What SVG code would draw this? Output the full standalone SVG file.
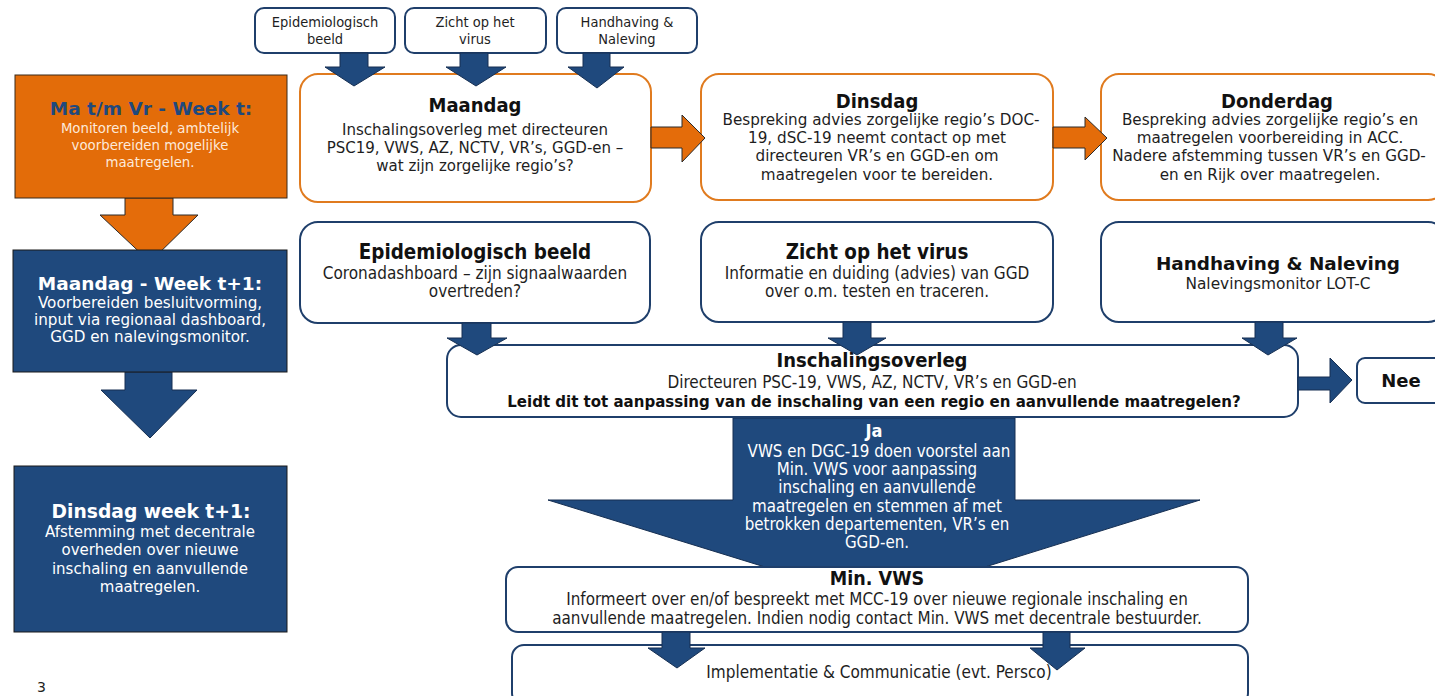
<svg xmlns="http://www.w3.org/2000/svg" width="1435" height="696" viewBox="0 0 1435 696">
<style>
.bg{fill:#ffffff}
.nb{fill:#ffffff;stroke:#1f3f6b;stroke-width:2}
.no{fill:#ffffff;stroke:#e07b1f;stroke-width:2}
.lo{fill:#e36c09;stroke:#3a2a1a;stroke-width:1}
.lb{fill:#1f497d;stroke:#1a1a1a;stroke-width:1}
.ab{fill:#1f497d;stroke:#162f52;stroke-width:1}
.ao{fill:#e46c0a;stroke:#2b2b2b;stroke-width:1}
.c{font-family:"DejaVu Sans Condensed","DejaVu Sans",sans-serif;fill:#1e1e1e;text-anchor:middle}
.v{font-family:"DejaVu Sans",Verdana,sans-serif;fill:#1e1e1e;text-anchor:middle}
.b{font-weight:bold;fill:#111}
.w{fill:#ffffff}
.cr{fill:#fde9d9}
</style>
<rect class="bg" x="0" y="0" width="1435" height="696"/>

<g id="connectors">
  <polygon class="ao" points="125,198 173,198 173,215 198,215 150,262 100,215 125,215"/>
  <polygon class="ab" points="125,372 172,372 172,390 197,390 150,438 101,390 125,390"/>
  <polygon class="ab" points="733,418 1015,418 1015,500 1200,500 985,567 765,567 548,500 733,500"/>
</g>

<g id="node-left-1">
  <rect class="lo" x="15" y="75" width="272" height="123"/>
  <text class="v b" x="151" y="115" font-size="18.5" style="fill:#1f497d">Ma t/m Vr - Week t:</text>
  <text class="v cr" x="150" y="133" font-size="13.3">Monitoren beeld, ambtelijk</text>
  <text class="v cr" x="150" y="150" font-size="13.3">voorbereiden mogelijke</text>
  <text class="v cr" x="150" y="167" font-size="13.3">maatregelen.</text>
</g>
<g id="node-left-2">
  <rect class="lb" x="13" y="250" width="274" height="122"/>
  <text class="v b" x="150" y="290" font-size="18.5" style="fill:#fff">Maandag - Week t+1:</text>
  <text class="v" x="150" y="308" font-size="15.2" style="fill:#fff">Voorbereiden besluitvorming,</text>
  <text class="v" x="150" y="325" font-size="15.2" style="fill:#fff">input via regionaal dashboard,</text>
  <text class="v" x="150" y="342" font-size="15.2" style="fill:#fff">GGD en nalevingsmonitor.</text>
</g>
<g id="node-left-3">
  <rect class="lb" x="14" y="466" width="273" height="166"/>
  <text class="v b" x="151" y="518" font-size="18.7" style="fill:#fff">Dinsdag week t+1:</text>
  <text class="v" x="150" y="537" font-size="15" style="fill:#fff">Afstemming met decentrale</text>
  <text class="v" x="150" y="555" font-size="15" style="fill:#fff">overheden over nieuwe</text>
  <text class="v" x="150" y="574" font-size="15" style="fill:#fff">inschaling en aanvullende</text>
  <text class="v" x="150" y="592" font-size="15" style="fill:#fff">maatregelen.</text>
</g>

<g id="node-top-epi">
  <rect class="nb" x="255" y="8" width="140" height="45" rx="9"/>
  <text class="c" x="325" y="27" font-size="14.5">Epidemiologisch</text>
  <text class="c" x="325" y="44" font-size="14.5">beeld</text>
</g>
<g id="node-top-zicht">
  <rect class="nb" x="405" y="8" width="141" height="45" rx="9"/>
  <text class="c" x="475" y="27" font-size="14.5">Zicht op het</text>
  <text class="c" x="475" y="44" font-size="14.5">virus</text>
</g>
<g id="node-top-handhaving">
  <rect class="nb" x="557" y="8" width="140" height="45" rx="9"/>
  <text class="c" x="627" y="27" font-size="14.5">Handhaving &amp;</text>
  <text class="c" x="627" y="44" font-size="14.5">Naleving</text>
</g>

<g id="node-maandag">
  <rect class="no" x="300" y="74" width="351" height="128" rx="18"/>
  <text class="c b" x="475" y="112" font-size="20">Maandag</text>
  <text class="c" x="475" y="135" font-size="16.7">Inschalingsoverleg met directeuren</text>
  <text class="c" x="475" y="153" font-size="16.7">PSC19, VWS, AZ, NCTV, VR’s, GGD-en –</text>
  <text class="c" x="475" y="171" font-size="16.7">wat zijn zorgelijke regio’s?</text>
</g>
<g id="node-dinsdag">
  <rect class="no" x="701" y="74" width="352" height="126" rx="18"/>
  <text class="c b" x="877" y="108" font-size="20">Dinsdag</text>
  <text class="v" x="881" y="125" font-size="15.2">Bespreking advies zorgelijke regio’s DOC-</text>
  <text class="v" x="877" y="143" font-size="15.2">19, dSC-19 neemt contact op met</text>
  <text class="v" x="877" y="161" font-size="15.2">directeuren VR’s en GGD-en om</text>
  <text class="v" x="877" y="180" font-size="15.2">maatregelen voor te bereiden.</text>
</g>
<g id="node-donderdag">
  <rect class="no" x="1101" y="74" width="345" height="126" rx="18"/>
  <text class="c b" x="1277" y="108" font-size="20">Donderdag</text>
  <text class="v" x="1270" y="125" font-size="15.2">Bespreking advies zorgelijke regio’s en</text>
  <text class="v" x="1270" y="143" font-size="15.2">maatregelen voorbereiding in ACC.</text>
  <text class="v" x="1269" y="161" font-size="15.2">Nadere afstemming tussen VR’s en GGD-</text>
  <text class="v" x="1270" y="180" font-size="15.2">en en Rijk over maatregelen.</text>
</g>

<g id="node-epi">
  <rect class="nb" x="300" y="222" width="350" height="101" rx="18"/>
  <text class="c b" x="475" y="259" font-size="20.4">Epidemiologisch beeld</text>
  <text class="c" x="475" y="279" font-size="17">Coronadashboard – zijn signaalwaarden</text>
  <text class="c" x="475" y="297" font-size="17">overtreden?</text>
</g>
<g id="node-zicht">
  <rect class="nb" x="701" y="222" width="352" height="100" rx="18"/>
  <text class="c b" x="877" y="259" font-size="20.4">Zicht op het virus</text>
  <text class="c" x="877" y="279" font-size="17">Informatie en duiding (advies) van GGD</text>
  <text class="c" x="877" y="297" font-size="17">over o.m. testen en traceren.</text>
</g>
<g id="node-handhaving">
  <rect class="nb" x="1101" y="222" width="345" height="100" rx="18"/>
  <text class="v b" x="1278" y="270" font-size="18.4">Handhaving &amp; Naleving</text>
  <text class="v" x="1278" y="289" font-size="15.4">Nalevingsmonitor LOT-C</text>
</g>

<g id="node-inschaling">
  <rect class="nb" x="447" y="345" width="851" height="72" rx="14"/>
  <text class="c b" x="872" y="367" font-size="20">Inschalingsoverleg</text>
  <text class="c" x="872" y="388" font-size="17">Directeuren PSC-19, VWS, AZ, NCTV, VR’s en GGD-en</text>
  <text class="c b" x="874" y="407" font-size="16.7">Leidt dit tot aanpassing van de inschaling van een regio en aanvullende maatregelen?</text>
</g>
<g id="node-nee">
  <rect class="nb" x="1357" y="358" width="90" height="45" rx="8"/>
  <text class="v b" x="1401" y="387" font-size="18">Nee</text>
</g>

<g id="node-ja-label">
  <text class="c b" x="874" y="437" font-size="18" style="fill:#fff">Ja</text>
  <text class="c" x="879" y="457" font-size="16.8" style="fill:#fff">VWS en DGC-19 doen voorstel aan</text>
  <text class="c" x="877" y="475" font-size="16.8" style="fill:#fff">Min. VWS voor aanpassing</text>
  <text class="c" x="877" y="493" font-size="16.8" style="fill:#fff">inschaling en aanvullende</text>
  <text class="c" x="877" y="512" font-size="16.8" style="fill:#fff">maatregelen en stemmen af met</text>
  <text class="c" x="877" y="530" font-size="16.8" style="fill:#fff">betrokken departementen, VR’s en</text>
  <text class="c" x="877" y="548" font-size="16.8" style="fill:#fff">GGD-en.</text>
</g>

<g id="node-minvws">
  <rect class="nb" x="506" y="567" width="742" height="65" rx="12"/>
  <text class="c b" x="877" y="585" font-size="19.5">Min. VWS</text>
  <text class="c" x="877" y="605" font-size="16.9">Informeert over en/of bespreekt met MCC-19 over nieuwe regionale inschaling en</text>
  <text class="c" x="877" y="624" font-size="16.9">aanvullende maatregelen. Indien nodig contact Min. VWS met decentrale bestuurder.</text>
</g>
<g id="node-implementatie">
  <rect class="nb" x="512" y="645" width="736" height="60" rx="12"/>
  <text class="c" x="879" y="678" font-size="17">Implementatie &amp; Communicatie (evt. Persco)</text>
</g>

<g id="connectors-over">
  <polygon class="ab" points="340,53 368,53 368,67 385,67 354,86 325,67 340,67"/>
  <polygon class="ab" points="460,53 488,53 488,67 506,67 476,86 446,67 460,67"/>
  <polygon class="ab" points="583,53 610,53 610,67 624,67 597,88 568,67 583,67"/>
  <polygon class="ao" points="651,127 682,127 682,115 705,138 682,162 682,148 651,148"/>
  <polygon class="ao" points="1053,127 1085,127 1085,117 1107,138 1085,160 1085,148 1053,148"/>
  <polygon class="ab" points="462,323 491,323 491,338 507,338 477,355 447,338 462,338"/>
  <polygon class="ab" points="843,322 871,322 871,338 886,338 857,355 828,338 843,338"/>
  <polygon class="ab" points="1255,322 1283,322 1283,338 1297,338 1268,355 1242,338 1255,338"/>
  <polygon class="ab" points="1298,377 1330,377 1330,358 1352,380 1330,403 1330,390 1298,390"/>
  <polygon class="ab" points="662,632 690,632 690,648 705,648 677,668 648,648 662,648"/>
  <polygon class="ab" points="1043,632 1070,632 1070,648 1085,648 1057,670 1030,648 1043,648"/>
</g>

<text x="37" y="692" font-family="'DejaVu Sans',sans-serif" font-size="14" fill="#222">3</text>
</svg>
